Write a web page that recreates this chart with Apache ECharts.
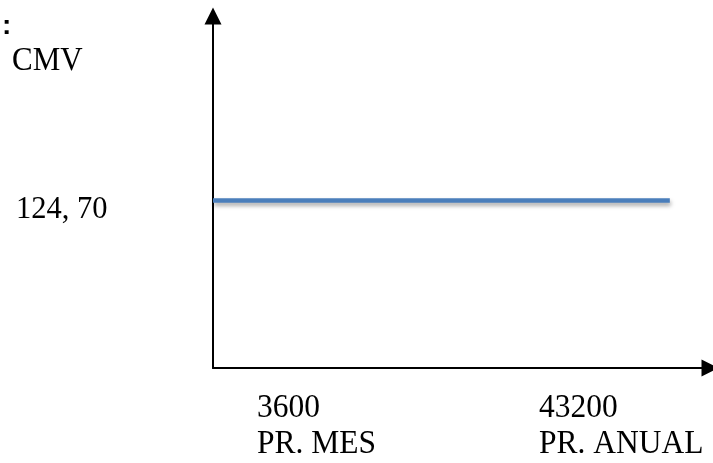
<!DOCTYPE html>
<html><head><meta charset="utf-8">
<script src="https://cdn.jsdelivr.net/npm/echarts@6/dist/echarts.min.js"></script>
<style>html,body{margin:0;padding:0;background:#fff}#c{width:713px;height:463px}</style>
</head><body><div id="c"></div>
<script>
// ---- data ----
const yName = 'CMV';
const cornerMark = ':';
const cmvValue = 124.70;
const cmvLabel = '124, 70';
const xStart = 0;
const xEnd = 43200;
const xTickValues = ['3600', '43200'];
const xTickNames = ['PR. MES', 'PR. ANUAL'];
const lineData = [[xStart, cmvValue], [xEnd, cmvValue]];

const SERIF = '"Liberation Serif", "Times New Roman", serif';
const chart = echarts.init(document.getElementById('c'), null, {renderer: 'canvas'});
chart.setOption({
  backgroundColor: '#fff',
  animation: false,
  grid: {left: 213, right: 3, top: 16, bottom: 95, containLabel: false, outerBoundsMode: 'none'},
  xAxis: {
    type: 'value', min: 0, max: 47000,
    axisLine: {show: true, lineStyle: {color: '#000', width: 2}, symbol: ['none', 'triangle'], symbolSize: [17, 17]},
    axisTick: {show: false}, axisLabel: {show: false}, splitLine: {show: false}
  },
  yAxis: {
    type: 'value', min: 0, max: 262,
    axisLine: {show: true, lineStyle: {color: '#000', width: 2}, symbol: ['none', 'triangle'], symbolSize: [17, 17]},
    axisTick: {show: false}, splitLine: {show: false},
    axisLabel: {
      show: true, customValues: [cmvValue], formatter: () => cmvLabel,
      align: 'left', verticalAlign: 'top', lineHeight: 19, margin: 197,
      color: '#000', fontFamily: SERIF, fontSize: 30.5
    }
  },
  graphic: [
    {type: 'text', left: 2, top: 12, style: {text: cornerMark, font: 'bold 28px "Liberation Sans", Arial, sans-serif', fill: '#000'}},
    {type: 'text', left: 12, top: 45, scaleY: 1.07, style: {text: yName, fontFamily: SERIF, fontSize: 31, fill: '#000'}},
    {type: 'text', left: 257, top: 390, scaleY: 1.07, style: {text: xTickValues[0] + '\n' + xTickNames[0], fontFamily: SERIF, fontSize: 31.5, lineHeight: 34, fill: '#000'}},
    {type: 'text', left: 539, top: 390, scaleY: 1.07, style: {text: xTickValues[1] + '\n' + xTickNames[1], fontFamily: SERIF, fontSize: 31.5, lineHeight: 34, fill: '#000'}}
  ],
  series: [{
    type: 'line', data: lineData, showSymbol: false, silent: true,
    lineStyle: {color: '#4A7EBB', width: 4.5, shadowColor: 'rgba(0,0,0,0.35)', shadowBlur: 4, shadowOffsetY: 3, shadowOffsetX: 1}
  }]
});
</script></body></html>
